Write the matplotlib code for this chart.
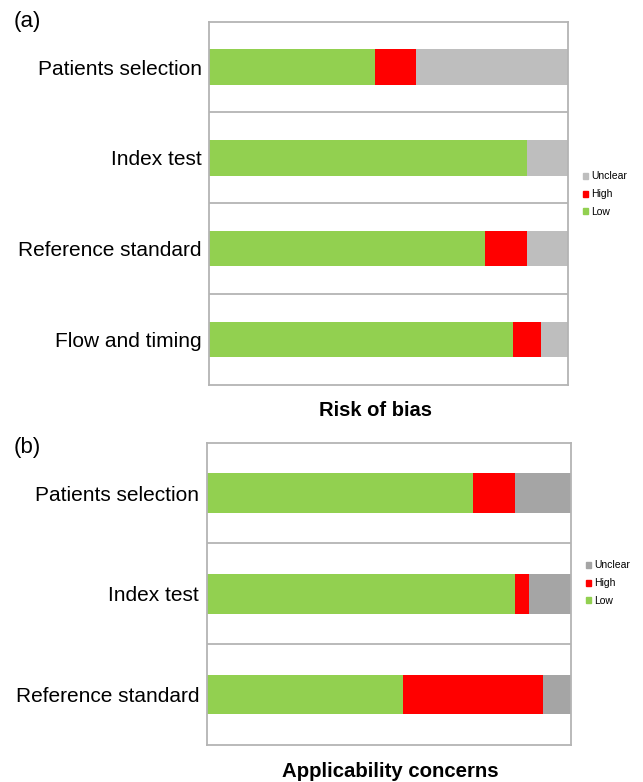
import matplotlib.pyplot as plt
from matplotlib.patches import Patch

plt.rcParams['font.family'] = ['Liberation Sans', 'DejaVu Sans']

# QUADAS-2 summary, percentage of studies per judgement
bias_domains = ["Patients selection", "Index test", "Reference standard", "Flow and timing"]
bias_low = [46.2, 88.5, 76.9, 84.6]
bias_high = [11.5, 0.0, 11.5, 7.7]
bias_unclear = [42.3, 11.5, 11.6, 7.7]

appl_domains = ["Patients selection", "Index test", "Reference standard"]
appl_low = [73.1, 84.6, 53.8]
appl_high = [11.5, 3.8, 38.5]
appl_unclear = [15.4, 11.6, 7.7]

GREEN = "#92D050"
RED = "#FF0000"
FRAME = "#B4B4B4"


def stacked_panel(ax, domains, low, high, unclear, grey):
    y = list(range(len(domains)))
    left_unc = [l + h for l, h in zip(low, high)]
    ax.barh(y, low, height=0.39, color=GREEN, linewidth=0)
    ax.barh(y, high, left=low, height=0.39, color=RED, linewidth=0)
    ax.barh(y, unclear, left=left_unc, height=0.39, color=grey, linewidth=0)
    for k in range(1, len(domains)):
        ax.axhline(k - 0.5, color=FRAME, lw=1.3)
    ax.set_xlim(0, 100)
    ax.set_ylim(len(domains) - 0.5, -0.5)
    ax.set_yticks(y)
    ax.set_yticklabels(domains, fontsize=15)
    ax.tick_params(axis='y', length=0, pad=5.5)
    ax.set_xticks([])
    for s in ax.spines.values():
        s.set_color(FRAME)
        s.set_linewidth(1.3)
    handles = [Patch(color=grey, label="Unclear"),
               Patch(color=RED, label="High"),
               Patch(color=GREEN, label="Low")]
    return handles


def side_legend(ax, handles, ymid):
    ax.legend(handles=handles, loc='center left', bbox_to_anchor=(1.02, ymid),
              frameon=False, fontsize=7.5, handlelength=0.5, handleheight=0.5,
              handletextpad=0.35, labelspacing=0.75, borderaxespad=0.3)


fig = plt.figure(figsize=(6.43, 7.82), dpi=100)

ax1 = fig.add_axes([0.3255, 0.5077, 0.5583, 0.4646])
h1 = stacked_panel(ax1, bias_domains, bias_low, bias_high, bias_unclear, "#BEBEBE")
side_legend(ax1, h1, 0.525)

ax2 = fig.add_axes([0.3215, 0.0473, 0.5666, 0.3866])
h2 = stacked_panel(ax2, appl_domains, appl_low, appl_high, appl_unclear, "#A5A5A5")
side_legend(ax2, h2, 0.535)

fig.text(0.584, 0.4757, "Risk of bias", ha='center', va='center',
         fontsize=14.5, fontweight='bold')
fig.text(0.607, 0.014, "Applicability concerns", ha='center', va='center',
         fontsize=14.7, fontweight='bold')
fig.text(0.021, 0.973, "(a)", ha='left', va='center', fontsize=16)
fig.text(0.021, 0.428, "(b)", ha='left', va='center', fontsize=16)

fig.savefig("out.png", dpi=100)
